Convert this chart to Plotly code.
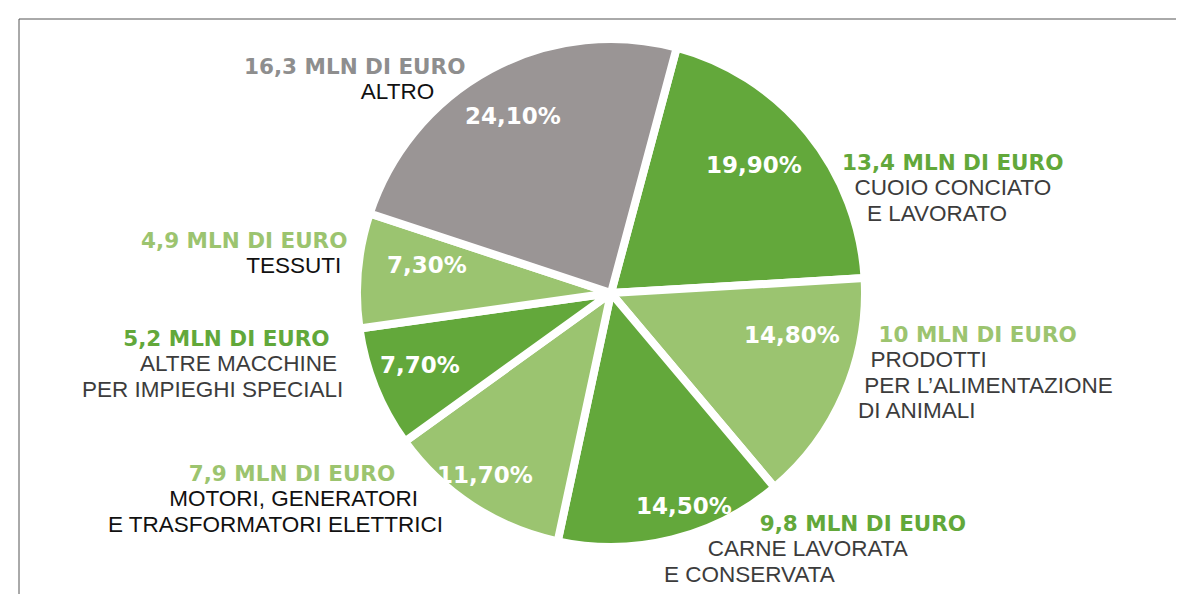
import plotly.graph_objects as go

W, H = 1184, 594

# settori in ordine orario, partendo da "cuoio"
settori = ["CUOIO CONCIATO<br>E LAVORATO", "PRODOTTI<br>PER L’ALIMENTAZIONE<br>DI ANIMALI",
           "CARNE LAVORATA<br>E CONSERVATA", "MOTORI, GENERATORI<br>E TRASFORMATORI ELETTRICI",
           "ALTRE MACCHINE<br>PER IMPIEGHI SPECIALI", "TESSUTI", "ALTRO"]
quote_pct = [19.9, 14.8, 14.5, 11.7, 7.7, 7.3, 24.1]
mln_euro = [13.4, 10, 9.8, 7.9, 5.2, 4.9, 16.3]

DARK = "#63a83b"
LIGHT = "#9bc470"
GREY = "#9a9595"
colori = [DARK, LIGHT, DARK, LIGHT, DARK, LIGHT, GREY]
colori_valore = ["#62a83a", "#9cc46f", "#62a83a", "#9cc46f", "#62a83a", "#9cc46f", "#8e8e8e"]
colori_nome = ["#3c3c3c", "#3c3c3c", "#3c3c3c", "#111111", "#3c3c3c", "#111111", "#111111"]

# posizioni etichette (pixel): percentuale al centro; blocco testo = (x ancoraggio, y centro, lato)
pos_pct = [(746, 157), (784, 327), (676, 498), (477, 467), (412, 357), (419, 257), (505, 108)]
pos_blocco = [(832, 180, "left"), (848, 364, "left"), (654, 541, "left"), (437, 491, "right"),
              (337, 356, "right"), (341, 245, "right"), (459, 71, "right")]
# rientri in numero di spazi per ogni riga (valore + righe del nome)
rientri = [[0, 2, 4], [3, 2, 1, 0], [14, 7, 0], [7, 4, 0], [2, 1, 0], [0, 1], [0, 5]]


def px(x):
    return x / W


def py(y):
    return 1 - y / H


def fmt(v, dec):
    return f"{v:.{dec}f}".replace(".", ",")


cx, cy, r = 603, 285, 254
fig = go.Figure()
fig.add_trace(go.Pie(values=quote_pct, labels=[s.replace("<br>", " ") for s in settori],
                     marker=dict(colors=colori, line=dict(color="white", width=8)),
                     sort=False, direction="clockwise", rotation=15, textinfo="none",
                     hoverinfo="label+percent", showlegend=False,
                     domain=dict(x=[px(cx - r), px(cx + r)], y=[py(cy + r), py(cy - r)])))

NB = "\u00a0"
ann = []
for i in range(len(settori)):
    x, y = pos_pct[i]
    ann.append(dict(x=px(x), y=py(y), text=f"<b>{fmt(quote_pct[i], 2)}%</b>", showarrow=False,
                    xanchor="center", yanchor="middle",
                    font=dict(family="DejaVu Sans", size=23, color="white")))

    x, y, side = pos_blocco[i]
    dec = 0 if mln_euro[i] == int(mln_euro[i]) else 1
    righe = [(f"<b>{fmt(mln_euro[i], dec)} MLN DI EURO</b>", "DejaVu Sans", 21.5, colori_valore[i])]
    righe += [(t, "Liberation Sans", 22.5, colori_nome[i]) for t in settori[i].split("<br>")]
    parti = []
    for (t, fam, fs, col), n in zip(righe, rientri[i]):
        pad = NB * n
        t = pad + t if side == "left" else t + pad
        parti.append(f"<span style='font-family:{fam};font-size:{fs}px;fill:{col}'>{t}</span>")
    ann.append(dict(x=px(x), y=py(y), text="<br>".join(parti), showarrow=False,
                    xanchor=side, yanchor="middle", align=side,
                    font=dict(family="Liberation Sans", size=19.6, color=colori_nome[i])))

# cornice
shapes = [
    dict(type="line", xref="paper", yref="paper", x0=px(11), x1=px(1181), y0=py(11), y1=py(11),
         line=dict(color="#555555", width=1)),
    dict(type="line", xref="paper", yref="paper", x0=px(11), x1=px(11), y0=py(11), y1=py(600),
         line=dict(color="#555555", width=1)),
    dict(type="line", xref="paper", yref="paper", x0=px(1180), x1=px(1180), y0=py(11), y1=py(600),
         line=dict(color="#9a9a9a", width=2)),
]

fig.update_layout(width=W, height=H, margin=dict(l=0, r=0, t=0, b=0),
                  paper_bgcolor="white", plot_bgcolor="white",
                  annotations=ann, shapes=shapes)
fig.write_html("out.html")
